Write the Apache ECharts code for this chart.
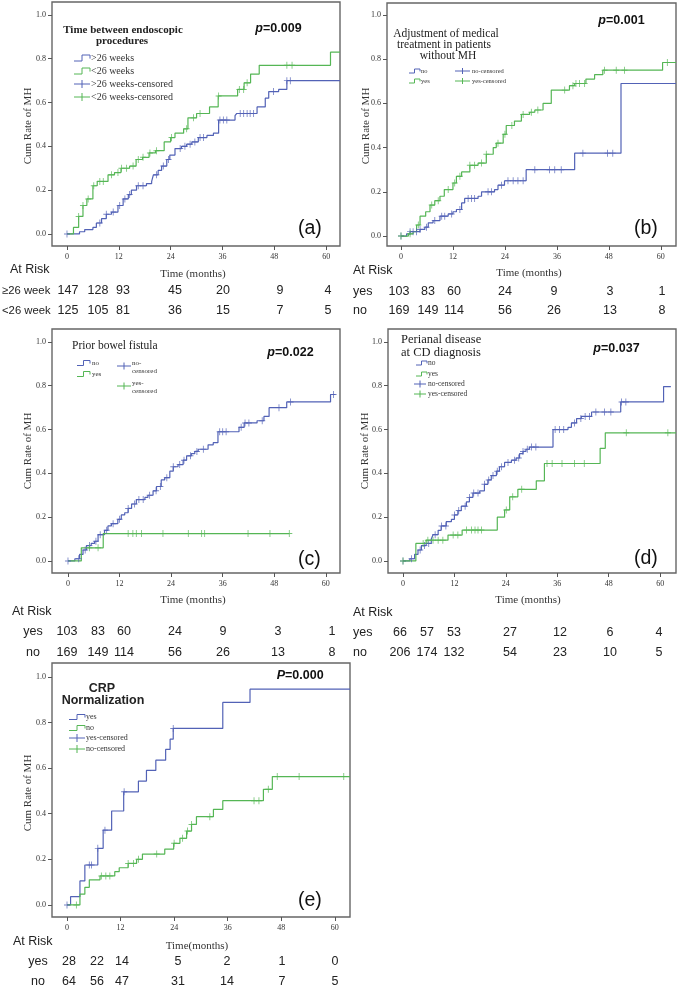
<!DOCTYPE html>
<html><head><meta charset="utf-8">
<script src="https://cdn.jsdelivr.net/npm/echarts@6/dist/echarts.min.js"></script>
<style>html,body{margin:0;padding:0;background:#fff}#c{width:677px;height:987px}</style>
</head><body><div id="c"></div>
<script>
// ================= DATA =================
const timeTicks = [0, 12, 24, 36, 48, 60];
const rateTicks = [0, 0.2, 0.4, 0.6, 0.8, 1.0];

// (a) Time between endoscopic procedures  -- [time(months), cumulative rate]
const aOverSteps = [[0,0],[2.9,0.01],[4.1,0.02],[6.0,0.03],[6.8,0.05],[8.0,0.07],[9.1,0.09],[10.3,0.10],[11.8,0.13],[13.0,0.16],[14.2,0.18],[14.9,0.20],[16.1,0.22],[18.4,0.23],[19.6,0.24],[20.0,0.27],[21.1,0.29],[21.9,0.31],[23.1,0.34],[23.8,0.36],[25.0,0.39],[26.5,0.40],[27.7,0.41],[28.9,0.42],[30.4,0.44],[32.4,0.45],[33.9,0.46],[35.1,0.52],[38.9,0.54],[39.3,0.55],[44.0,0.58],[45.9,0.62],[46.7,0.65],[49.0,0.66],[50.9,0.70]];
const aOverEnd = 63.2;
const aOverCens = [0,7.6,9.1,10.7,12.2,13.4,14.5,16.5,17.6,20.7,22.3,23.5,26.2,27.3,28.5,29.6,30.8,31.6,35.4,36.2,37.0,40.1,40.9,41.7,42.4,43.2,47.8,50.9,51.7];
const aUnderSteps = [[0,0],[1.5,0.03],[2.7,0.08],[3.7,0.13],[4.6,0.16],[6.0,0.22],[7.0,0.24],[9.5,0.27],[11.0,0.28],[12.5,0.30],[14.5,0.31],[16.0,0.34],[17.5,0.35],[19.0,0.37],[20.5,0.38],[22.5,0.42],[24.0,0.44],[25.0,0.46],[27.0,0.48],[28.0,0.53],[30.0,0.55],[33.0,0.58],[35.0,0.63],[39.5,0.66],[41.0,0.69],[42.5,0.73],[44.5,0.77],[61.0,0.83]];
const aUnderEnd = 63.2;
const aUnderCens = [2.7,3.7,4.9,6.2,7.6,8.4,10.3,11.8,12.6,13.8,15.3,16.5,17.6,19.2,20.7,24.2,27.7,29.3,30.8,35.1,39.9,40.9,41.7,50.9,52.1];
const aRiskOver = [147,128,93,45,20,9,4];
const aRiskUnder = [125,105,81,36,15,7,5];

// (b) Adjustment of medical treatment in patients without MH
const bNoSteps = [[0,0],[1.3,0.01],[2.1,0.02],[4.4,0.03],[5.5,0.04],[6.3,0.06],[7.4,0.07],[9.0,0.09],[10.9,0.10],[12.0,0.11],[12.8,0.12],[14.0,0.15],[14.7,0.17],[17.8,0.18],[18.6,0.20],[21.6,0.21],[22.4,0.23],[23.9,0.25],[28.9,0.30],[40.1,0.375],[50.8,0.69]];
const bNoEnd = 63.5;
const bNoCens = [0,2.1,2.8,3.6,4.4,5.9,7.8,9.4,10.1,11.7,13.6,15.5,16.3,17.0,20.1,20.9,23.2,24.7,25.9,27.0,28.2,30.9,34.3,35.5,37.0,42.0,47.7,48.9];
const bYesSteps = [[0,0],[1.7,0.01],[2.8,0.02],[3.6,0.05],[4.4,0.09],[5.7,0.11],[6.7,0.14],[7.8,0.16],[9.0,0.18],[10.0,0.21],[12.0,0.24],[12.8,0.27],[14.0,0.29],[15.9,0.32],[17.8,0.33],[19.7,0.37],[21.3,0.40],[22.0,0.42],[23.6,0.46],[24.3,0.50],[26.2,0.52],[27.8,0.55],[29.7,0.56],[30.9,0.57],[32.8,0.60],[34.7,0.66],[38.9,0.68],[40.1,0.69],[42.7,0.71],[44.7,0.73],[46.6,0.75],[60.4,0.785]];
const bYesEnd = 63.5;
const bYesCens = [0,2.1,4.0,7.1,8.6,10.9,12.4,13.6,15.9,17.0,18.6,19.7,22.4,24.0,25.6,28.2,30.1,31.6,37.8,39.7,40.4,41.2,42.4,47.0,49.7,51.6,61.5];
const bRiskYes = [103,83,60,24,9,3,1];
const bRiskNo = [169,149,114,56,26,13,8];

// (c) Prior bowel fistula
const cNoSteps = [[0,0],[1.6,0.01],[2.7,0.03],[3.5,0.05],[4.3,0.07],[5.4,0.08],[6.2,0.09],[7.0,0.12],[8.5,0.14],[9.3,0.16],[10.1,0.17],[11.6,0.19],[12.4,0.21],[13.2,0.22],[14.0,0.24],[14.8,0.26],[15.9,0.28],[17.9,0.29],[18.6,0.30],[19.8,0.32],[20.6,0.34],[21.7,0.37],[22.5,0.38],[23.7,0.41],[24.5,0.43],[25.6,0.44],[26.8,0.46],[27.6,0.48],[28.7,0.49],[29.5,0.50],[30.3,0.51],[32.6,0.53],[33.8,0.54],[34.9,0.59],[39.8,0.61],[41.0,0.63],[44.0,0.64],[45.6,0.66],[46.8,0.70],[50.9,0.726],[61.1,0.76]];
const cNoEnd = 62.2;
const cNoCens = [0,2.5,4.0,5.0,6.5,7.5,9.0,10.5,12.0,14.0,15.5,16.5,17.5,19.0,20.5,21.5,23.0,24.5,26.0,27.0,28.5,30.0,31.5,35.3,36.0,36.8,40.3,41.2,42.1,45.2,49.1,51.8,61.8];
const cYesSteps = [[0,0],[3.1,0.06],[8.2,0.125]];
const cYesEnd = 51.5;
const cYesCens = [5.0,7.0,14.0,15.1,15.9,17.1,22.1,28.0,31.1,31.8,41.9,47.0,51.5];
const cRiskYes = [103,83,60,24,9,3,1];
const cRiskNo = [169,149,114,56,26,13,8];

// (d) Perianal disease at CD diagnosis
const dNoSteps = [[0,0],[1.6,0.01],[2.7,0.03],[3.5,0.05],[4.3,0.07],[5.4,0.08],[6.6,0.10],[7.0,0.12],[8.2,0.14],[8.9,0.16],[10.1,0.18],[11.3,0.19],[12.0,0.21],[12.8,0.23],[13.6,0.25],[14.8,0.27],[15.5,0.29],[16.3,0.31],[17.9,0.32],[19.0,0.35],[19.8,0.37],[20.6,0.39],[21.8,0.41],[22.5,0.43],[23.7,0.45],[25.3,0.46],[26.4,0.47],[27.2,0.49],[28.0,0.50],[28.7,0.51],[29.5,0.52],[35.0,0.60],[38.5,0.61],[39.3,0.63],[40.5,0.65],[41.6,0.66],[44.0,0.68],[50.8,0.726],[60.8,0.796]];
const dNoEnd = 62.5;
const dNoCens = [0,2,4,5,6,7.5,9,10,12,13,14.5,15.5,16.5,17.5,19,20,21,22,23,24.5,26,27,28,29,30,31,35.5,36.5,37.5,40,41.5,42.5,43.5,45,47,48.5,51,52];
const dYesSteps = [[0,0],[3.0,0.08],[5.4,0.095],[10.5,0.118],[13.8,0.141],[22.0,0.20],[23.7,0.233],[24.9,0.293],[26.8,0.327],[31.1,0.366],[33.0,0.445],[46.0,0.514],[47.2,0.585]];
const dYesEnd = 63.7;
const dYesCens = [0,4.7,5.8,7.0,8.2,9.3,11.7,12.8,14.8,16.0,16.8,17.5,18.3,24.1,25.6,27.7,33.6,34.8,37.1,40.0,42.3,52.1,61.8];
const dRiskYes = [66,57,53,27,12,6,4];
const dRiskNo = [206,174,132,54,23,10,5];

// (e) CRP Normalization
const eYesSteps = [[0,0],[0.8,0.036],[2.9,0.105],[4.0,0.175],[6.9,0.248],[8.1,0.328],[10.0,0.412],[12.7,0.496],[16.0,0.543],[17.8,0.59],[19.9,0.635],[22.1,0.682],[23.1,0.727],[23.8,0.774],[34.9,0.888],[41.0,0.946]];
const eYesEnd = 63.4;
const eYesCens = [0,5.0,5.5,6.9,8.5,12.8,23.8];
const eNoSteps = [[0,0],[2.9,0.047],[4.0,0.077],[5.0,0.11],[7.4,0.127],[10.7,0.146],[11.7,0.163],[13.7,0.182],[15.6,0.20],[16.9,0.223],[21.9,0.245],[23.9,0.27],[25.3,0.292],[26.8,0.324],[27.9,0.353],[29.0,0.387],[32.8,0.419],[34.9,0.457],[44.0,0.507],[46.0,0.563]];
const eNoEnd = 63.4;
const eNoCens = [2.1,7.7,8.7,9.6,13.7,14.9,16.0,20.1,24.0,25.9,27.0,27.9,32.0,41.9,43.0,45.1,47.1,52.0,62.0];
const eRiskYes = [28,22,14,5,2,1,0];
const eRiskNo = [64,56,47,31,14,7,5];

// ================= STYLE / LAYOUT =================
const BLUE = '#5262B6';
const GREEN = '#55B655';
const SERIF = '"Liberation Serif","Times New Roman",serif';
const SANS = '"Liberation Sans",Arial,sans-serif';
const PLUS = 'path://M-0.14,-1L0.14,-1L0.14,-0.14L1,-0.14L1,0.14L0.14,0.14L0.14,1L-0.14,1L-0.14,0.14L-1,0.14L-1,-0.14L-0.14,-0.14Z';

const panels = [
  {grid:{left:52,top:2,width:288,height:244}, x:[-3.47,63.2], y:[-0.055,1.059],
   s1:{steps:aOverSteps,end:aOverEnd,cens:aOverCens,color:BLUE},
   s2:{steps:aUnderSteps,end:aUnderEnd,cens:aUnderCens,color:GREEN}},
  {grid:{left:387,top:3,width:289,height:243}, x:[-3.23,63.5], y:[-0.045,1.054],
   s1:{steps:bNoSteps,end:bNoEnd,cens:bNoCens,color:BLUE},
   s2:{steps:bYesSteps,end:bYesEnd,cens:bYesCens,color:GREEN}},
  {grid:{left:52,top:329,width:288,height:244}, x:[-3.72,63.3], y:[-0.055,1.059],
   s1:{steps:cNoSteps,end:cNoEnd,cens:cNoCens,color:BLUE},
   s2:{steps:cYesSteps,end:cYesEnd,cens:cYesCens,color:GREEN}},
  {grid:{left:388,top:329,width:288,height:244}, x:[-3.5,63.7], y:[-0.055,1.059],
   s1:{steps:dNoSteps,end:dNoEnd,cens:dNoCens,color:BLUE},
   s2:{steps:dYesSteps,end:dYesEnd,cens:dYesCens,color:GREEN}},
  {grid:{left:52,top:663,width:298,height:254}, x:[-3.36,63.4], y:[-0.053,1.061],
   s1:{steps:eYesSteps,end:eYesEnd,cens:eYesCens,color:BLUE},
   s2:{steps:eNoSteps,end:eNoEnd,cens:eNoCens,color:GREEN}}
];

function stepLine(steps, end){ const d = steps.map(p=>[p[0],p[1]]); d.push([end, steps[steps.length-1][1]]); return d; }
function valueAt(steps, t){ let v = 0; for (const p of steps) if (p[0] <= t + 1e-9) v = p[1]; return v; }

const grids=[], xAxes=[], yAxes=[], series=[];
panels.forEach((p,i)=>{
  grids.push(Object.assign({show:true, borderColor:'#666', borderWidth:1.4, backgroundColor:'transparent'}, p.grid));
  xAxes.push({type:'value', gridIndex:i, min:p.x[0], max:p.x[1],
    axisLine:{show:false, onZero:false}, splitLine:{show:false},
    axisTick:{show:true, inside:false, length:4, customValues:timeTicks, lineStyle:{color:'#555'}},
    axisLabel:{customValues:timeTicks, margin:7, fontFamily:SERIF, fontSize:8, color:'#333', formatter:v=>String(v)}});
  yAxes.push({type:'value', gridIndex:i, min:p.y[0], max:p.y[1],
    axisLine:{show:false, onZero:false}, splitLine:{show:false},
    axisTick:{show:true, inside:false, length:4, customValues:rateTicks, lineStyle:{color:'#555'}},
    axisLabel:{customValues:rateTicks, margin:6, fontFamily:SERIF, fontSize:8, color:'#333', formatter:v=>v.toFixed(1)}});
  [p.s1,p.s2].forEach(s=>{
    series.push({type:'line', xAxisIndex:i, yAxisIndex:i, step:'end', showSymbol:false, symbol:'none',
      data:stepLine(s.steps,s.end), lineStyle:{color:s.color, width:1.2}, itemStyle:{color:s.color}, silent:true, z:2});
    series.push({type:'scatter', xAxisIndex:i, yAxisIndex:i, symbol:PLUS, symbolSize:[6,7],
      data:s.cens.map(t=>[t, valueAt(s.steps,t)]), itemStyle:{color:s.color}, silent:true, z:3});
  });
});

// ================= TEXT / LEGENDS =================
function T(x,y,text,size,o){
  o = o || {};
  const al = o.align || 'left';
  return {type:'text', x:x, y:y, rotation:o.rot||0, silent:true, z:10,
    style:{text:text, fill:o.color||'#222',
      font:(o.italic?'italic ':'')+(o.bold?'bold ':'')+size+'px '+(o.family||SERIF),
      textAlign:al, align:al, textVerticalAlign:'middle', verticalAlign:'middle'}};
}
function stepIcon(x,y,w,h,color){
  return {type:'polyline', silent:true, z:10, shape:{points:[[x,y+h/2],[x+w*0.5,y+h/2],[x+w*0.5,y-h/2],[x+w,y-h/2],[x+w,y+h*0.1]]},
    style:{stroke:color, lineWidth:1, fill:null}};
}
function censIcon(x,y,w,h,color){
  return [{type:'line', silent:true, z:10, shape:{x1:x,y1:y,x2:x+w,y2:y}, style:{stroke:color,lineWidth:1}},
          {type:'line', silent:true, z:10, shape:{x1:x+w*0.5,y1:y-h/2,x2:x+w*0.5,y2:y+h/2}, style:{stroke:color,lineWidth:1}}];
}
function pval(x,y,letter,val){
  return [T(x,y,letter,12.5,{italic:true,bold:true,family:SANS,align:'right',color:'#111'}),
          T(x,y,val,12.5,{bold:true,family:SANS,color:'#111'})];
}
function riskRows(cols, rows, ys){
  const out=[];
  rows.forEach((r,ri)=>r.forEach((v,ci)=>out.push(T(cols[ci], ys[ri], String(v), 12.5, {family:SANS, align:'center', color:'#222'}))));
  return out;
}

let G = [];
// axis titles
const yTitles = [[28,126],[366,126],[28,451],[365,451],[28,793]];
yTitles.forEach(p=>G.push(T(p[0],p[1],'Cum Rate of MH',11,{rot:Math.PI/2, align:'center', color:'#333'})));
G.push(T(193,274,'Time (months)',11,{align:'center',color:'#333'}));
G.push(T(529,273,'Time (months)',11,{align:'center',color:'#333'}));
G.push(T(193,600,'Time (months)',11,{align:'center',color:'#333'}));
G.push(T(528,600,'Time (months)',11,{align:'center',color:'#333'}));
G.push(T(197,946,'Time(months)',11,{align:'center',color:'#333'}));

// panel labels
G.push(T(298,229,'(a)',19.5,{family:SANS,color:'#111'}));
G.push(T(634,229,'(b)',19.5,{family:SANS,color:'#111'}));
G.push(T(298,560,'(c)',19.5,{family:SANS,color:'#111'}));
G.push(T(634,559,'(d)',19.5,{family:SANS,color:'#111'}));
G.push(T(298,901,'(e)',19.5,{family:SANS,color:'#111'}));

// p-values
G = G.concat(pval(263,29,'p','=0.009'), pval(606,21,'p','=0.001'), pval(275,353,'p','=0.022'), pval(601,349,'p','=0.037'), pval(285,676,'P','=0.000'));

// legend (a)
G.push(T(123,30,'Time between endoscopic',11,{bold:true,align:'center'}));
G.push(T(122,41,'procedures',11,{bold:true,align:'center'}));
G.push(stepIcon(74,58,16,6,BLUE)); G.push(T(91,58,'>26 weeks',10,{color:'#333'}));
G.push(stepIcon(74,71,16,6,GREEN)); G.push(T(91,71,'<26 weeks',10,{color:'#333'}));
G = G.concat(censIcon(74,84,16,8,BLUE)); G.push(T(91,84,'>26 weeks-censored',10,{color:'#333'}));
G = G.concat(censIcon(74,97,16,8,GREEN)); G.push(T(91,97,'<26 weeks-censored',10,{color:'#333'}));

// legend (b)
G.push(T(446,34,'Adjustment of medical',11.5,{align:'center'}));
G.push(T(444,45,'treatment in patients',11.5,{align:'center'}));
G.push(T(448,56,'without MH',11.5,{align:'center'}));
G.push(stepIcon(409,71,11,4,BLUE)); G.push(T(421,71,'no',6.5,{color:'#333'}));
G.push(stepIcon(409,81,11,4,GREEN)); G.push(T(421,81,'yes',6.5,{color:'#333'}));
G = G.concat(censIcon(455,71,15,6,BLUE)); G.push(T(472,71,'no-censored',6.5,{color:'#333'}));
G = G.concat(censIcon(455,81,15,6,GREEN)); G.push(T(472,81,'yes-censored',6.5,{color:'#333'}));

// legend (c)
G.push(T(72,346,'Prior bowel fistula',11.5));
G.push(stepIcon(77,363,13,5,BLUE)); G.push(T(92,363,'no',7,{color:'#333'}));
G.push(stepIcon(77,374,13,5,GREEN)); G.push(T(92,374,'yes',7,{color:'#333'}));
G = G.concat(censIcon(117,366,14,7,BLUE)); G.push(T(132,363,'no-',7,{color:'#333'})); G.push(T(132,371,'censored',7,{color:'#333'}));
G = G.concat(censIcon(117,386,14,7,GREEN)); G.push(T(132,383,'yes-',7,{color:'#333'})); G.push(T(132,391,'censored',7,{color:'#333'}));

// legend (d)
G.push(T(401,340,'Perianal disease',12.5));
G.push(T(401,353,'at CD diagnosis',12.5));
G.push(stepIcon(416,363,11,4,BLUE)); G.push(T(428,363,'no',7.5,{color:'#333'}));
G.push(stepIcon(416,374,11,4,GREEN)); G.push(T(428,374,'yes',7.5,{color:'#333'}));
G = G.concat(censIcon(414,384,12,7,BLUE)); G.push(T(428,384,'no-censored',7.5,{color:'#333'}));
G = G.concat(censIcon(414,394,12,7,GREEN)); G.push(T(428,394,'yes-censored',7.5,{color:'#333'}));

// legend (e)
G.push(T(102,689,'CRP',12.5,{bold:true,family:SANS,align:'center'}));
G.push(T(103,701,'Normalization',12.5,{bold:true,family:SANS,align:'center'}));
G.push(stepIcon(69,717,16,5,BLUE)); G.push(T(86,717,'yes',8,{color:'#333'}));
G.push(stepIcon(69,728,16,5,GREEN)); G.push(T(86,728,'no',8,{color:'#333'}));
G = G.concat(censIcon(69,738,16,8,BLUE)); G.push(T(86,738,'yes-censored',8,{color:'#333'}));
G = G.concat(censIcon(69,749,16,8,GREEN)); G.push(T(86,749,'no-censored',8,{color:'#333'}));

// at-risk tables
const RF = {family:SANS,color:'#222'};
G.push(T(10,270,'At Risk',12.5,RF));
G.push(T(2,291,'\u226526 week',11.3,RF)); G.push(T(2,311,'<26 week',11.3,RF));
G = G.concat(riskRows([68,98,123,175,223,280,328],[aRiskOver,aRiskUnder],[291,311]));

G.push(T(353,271,'At Risk',12.5,RF));
G.push(T(353,292,'yes',12.5,RF)); G.push(T(353,311,'no',12.5,RF));
G = G.concat(riskRows([399,428,454,505,554,610,662],[bRiskYes,bRiskNo],[292,311]));

G.push(T(12,612,'At Risk',12.5,RF));
G.push(T(33,632,'yes',12.5,Object.assign({align:'center'},RF))); G.push(T(33,653,'no',12.5,Object.assign({align:'center'},RF)));
G = G.concat(riskRows([67,98,124,175,223,278,332],[cRiskYes,cRiskNo],[632,653]));

G.push(T(353,613,'At Risk',12.5,RF));
G.push(T(353,633,'yes',12.5,RF)); G.push(T(353,653,'no',12.5,RF));
G = G.concat(riskRows([400,427,454,510,560,610,659],[dRiskYes,dRiskNo],[633,653]));

G.push(T(13,942,'At Risk',12.5,RF));
G.push(T(38,962,'yes',12.5,Object.assign({align:'center'},RF))); G.push(T(38,982,'no',12.5,Object.assign({align:'center'},RF)));
G = G.concat(riskRows([69,97,122,178,227,282,335],[eRiskYes,eRiskNo],[962,982]));

const chart = echarts.init(document.getElementById('c'), null, {renderer:'canvas', width:677, height:987});
chart.setOption({
  animation:false,
  backgroundColor:'#fff',
  grid:grids, xAxis:xAxes, yAxis:yAxes, series:series,
  graphic:{elements:G}
});
</script></body></html>
